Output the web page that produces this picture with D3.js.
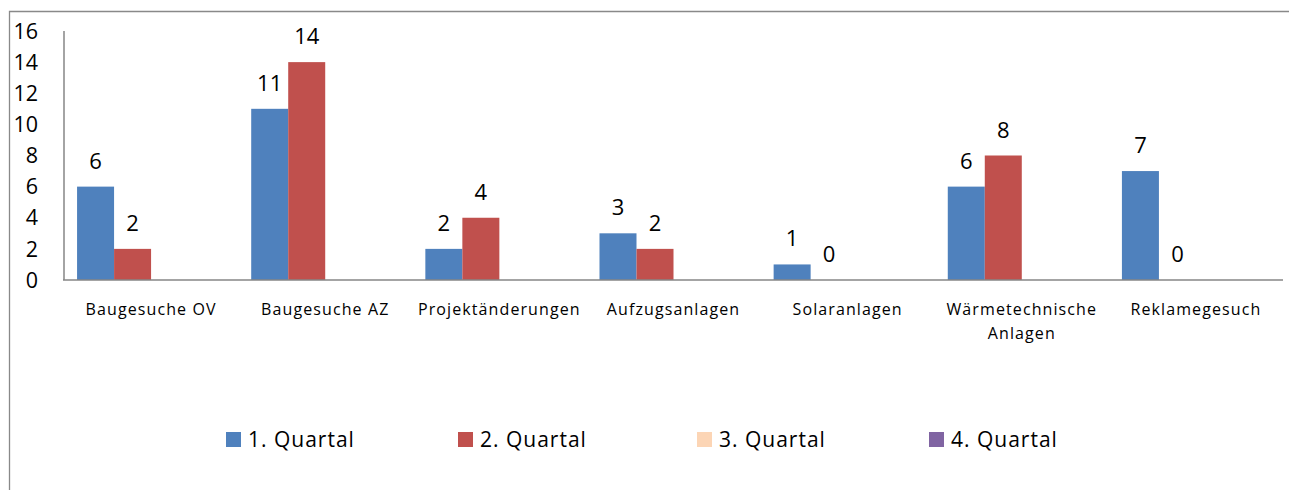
<!DOCTYPE html>
<meta charset="utf-8">
<head>
<script src="https://d3js.org/d3.v7.min.js"></script>
<style>
  body { margin: 0; background: #fff; }
  text { font-family: "Open Sans", sans-serif; fill: #000; }
</style>
</head>
<body>
<div id="my_dataviz"></div>
<script>

  // data
  var categories = ["Baugesuche OV", "Baugesuche AZ", "Projektänderungen", "Aufzugsanlagen",
                    "Solaranlagen", "Wärmetechnische Anlagen", "Reklamegesuch"];
  var series = ["1. Quartal", "2. Quartal", "3. Quartal", "4. Quartal"];
  var q1 = [6, 11, 2, 3, 1, 6, 7];
  var q2 = [2, 14, 4, 2, 0, 8, 0];
  var q3 = [null, null, null, null, null, null, null];
  var q4 = [null, null, null, null, null, null, null];
  var yTicks = [0, 2, 4, 6, 8, 10, 12, 14, 16];
  var colors = ["#4f81bd", "#c0504d", "#fcd5b5", "#8064a2"];

  var values = [q1, q2, q3, q4];

  var width = 1289, height = 490;

  var svg = d3.select("#my_dataviz")
    .append("svg")
      .attr("width", width)
      .attr("height", height);

  // outer frame (only top and left are visible)
  svg.append("path")
    .attr("d", "M9.5,490 V11.5 H1289")
    .attr("fill", "none")
    .attr("stroke", "#898989")
    .attr("stroke-width", 1.3);

  var x0 = d3.scaleBand()
    .domain(categories)
    .range([64, 1283])
    .paddingInner(0)
    .paddingOuter(0);

  var x1 = d3.scaleBand()
    .domain(series)
    .range([0, x0.bandwidth()])
    .paddingInner(0)
    .paddingOuter(0.353);

  var y = d3.scaleLinear()
    .domain([0, 16])
    .range([280, 31]);

  // y tick labels (no tick marks)
  svg.selectAll(".ytick")
    .data(yTicks)
    .enter()
    .append("text")
      .attr("class", "ytick")
      .attr("x", 38)
      .attr("y", function(d){ return y(d) })
      .attr("dy", "0.36em")
      .attr("text-anchor", "end")
      .attr("font-size", "21.5px")
      .text(function(d){ return d });

  // bars
  var rows = [];
  series.forEach(function(s, i){
    categories.forEach(function(c, j){
      rows.push({cat: c, ser: s, i: i, v: values[i][j]});
    });
  });
  var withVal = rows.filter(function(d){ return d.v !== null });

  svg.selectAll(".bar")
    .data(withVal)
    .enter()
    .append("rect")
      .attr("class", "bar")
      .attr("x", function(d){ return x0(d.cat) + x1(d.ser) })
      .attr("y", function(d){ return y(d.v) })
      .attr("width", x1.bandwidth())
      .attr("height", function(d){ return y(0) - y(d.v) })
      .attr("fill", function(d){ return colors[d.i] });

  // value labels
  svg.selectAll(".val")
    .data(withVal)
    .enter()
    .append("text")
      .attr("class", "val")
      .attr("x", function(d){ return x0(d.cat) + x1(d.ser) + x1.bandwidth() / 2 })
      .attr("y", function(d){ return y(d.v) - 18 })
      .attr("text-anchor", "middle")
      .attr("font-size", "22px")
      .text(function(d){ return d.v });

  // axes lines
  svg.append("line")
    .attr("x1", 64).attr("x2", 64)
    .attr("y1", y(16)).attr("y2", y(0))
    .attr("stroke", "#868686").attr("stroke-width", 1.5);
  svg.append("line")
    .attr("x1", 63).attr("x2", 1283)
    .attr("y1", y(0)).attr("y2", y(0))
    .attr("stroke", "#868686").attr("stroke-width", 1.5);

  // category labels (wrap long ones)
  var cats = svg.selectAll(".cat")
    .data(categories)
    .enter()
    .append("text")
      .attr("class", "cat")
      .attr("text-anchor", "middle")
      .attr("font-size", "16px")
      .attr("letter-spacing", "1.1px")
      .attr("transform", function(d){ return "translate(" + (x0(d) + x0.bandwidth() / 2) + ",315)" });
  cats.each(function(d){
    var words = d.length > 18 ? d.split(" ") : [d];
    var t = d3.select(this);
    words.forEach(function(w, k){
      t.append("tspan").attr("x", 0).attr("dy", k === 0 ? 0 : 24).text(w);
    });
  });

  // legend
  var legX = [226, 458, 697, 929];
  var leg = svg.selectAll(".leg")
    .data(series)
    .enter()
    .append("g")
      .attr("class", "leg")
      .attr("transform", function(d, i){ return "translate(" + legX[i] + ",432)" });
  leg.append("rect")
    .attr("width", 15).attr("height", 15)
    .attr("fill", function(d, i){ return colors[i] });
  leg.append("text")
    .attr("x", 22)
    .attr("y", 15)
    .attr("font-size", "21px")
    .attr("letter-spacing", "1px")
    .text(function(d){ return d });

</script>
</body>
